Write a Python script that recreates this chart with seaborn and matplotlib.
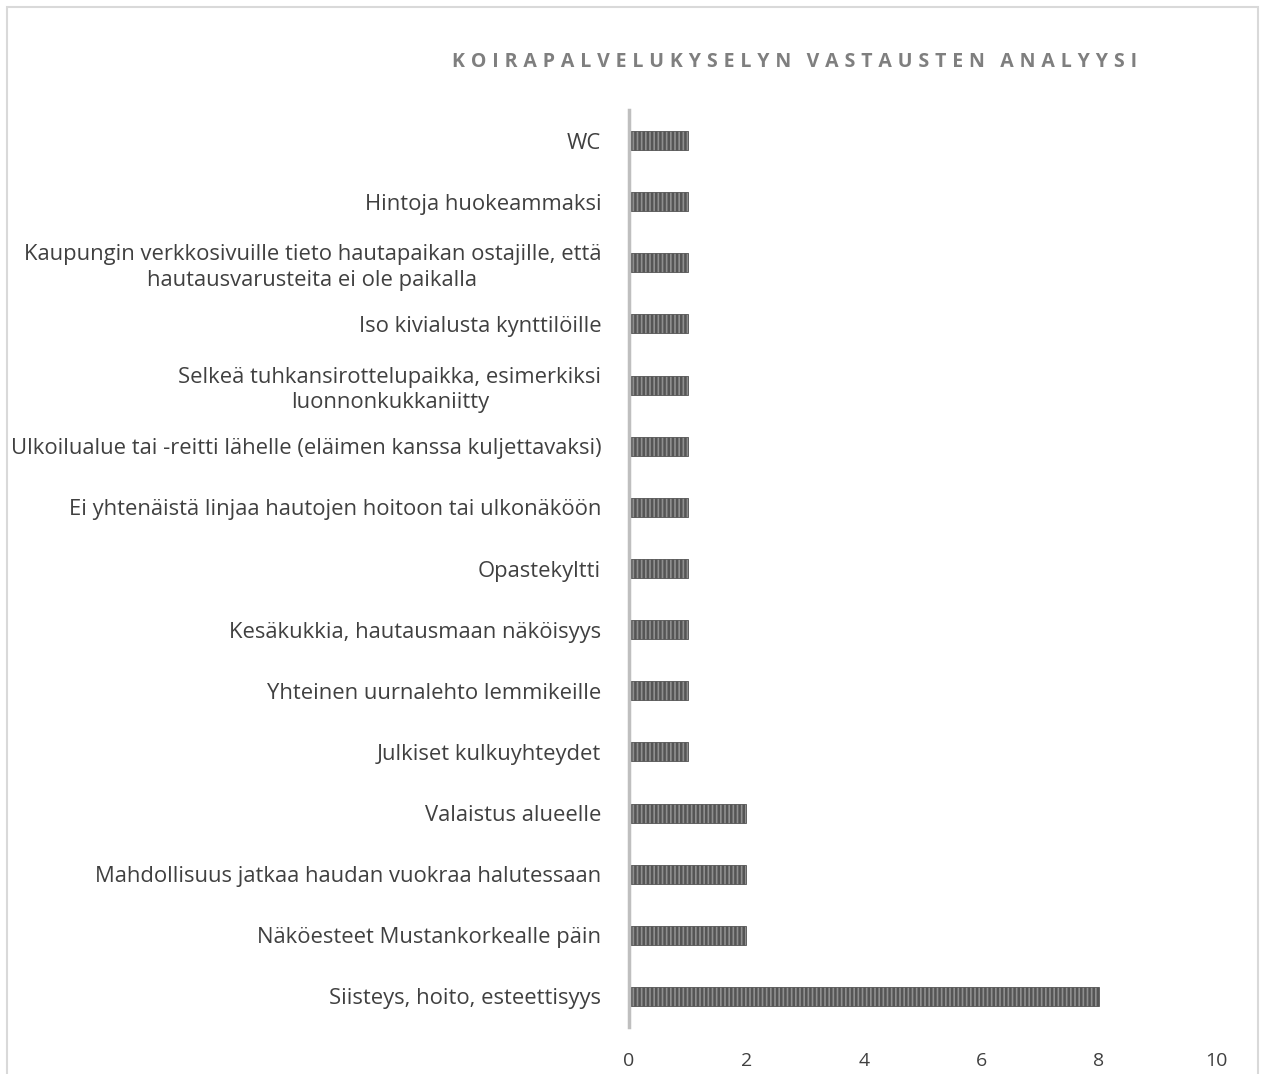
import pandas as pd
import seaborn as sns
import matplotlib.pyplot as plt
from matplotlib.patches import Rectangle

# data, top to bottom as in the chart
categories = [
    "WC",
    "Hintoja huokeammaksi",
    "Kaupungin verkkosivuille tieto hautapaikan ostajille, että\nhautausvarusteita ei ole paikalla",
    "Iso kivialusta kynttilöille",
    "Selkeä tuhkansirottelupaikka, esimerkiksi\nluonnonkukkaniitty",
    "Ulkoilualue tai -reitti lähelle (eläimen kanssa kuljettavaksi)",
    "Ei yhtenäistä linjaa hautojen hoitoon tai ulkonäköön",
    "Opastekyltti",
    "Kesäkukkia, hautausmaan näköisyys",
    "Yhteinen uurnalehto lemmikeille",
    "Julkiset kulkuyhteydet",
    "Valaistus alueelle",
    "Mahdollisuus jatkaa haudan vuokraa halutessaan",
    "Näköesteet Mustankorkealle päin",
    "Siisteys, hoito, esteettisyys",
]
counts = [1, 1, 1, 1, 1, 1, 1, 1, 1, 1, 1, 2, 2, 2, 8]
x_ticks = [0, 2, 4, 6, 8, 10]
title = "KOIRAPALVELUKYSELYN VASTAUSTEN ANALYYSI"

df = pd.DataFrame({"vastaus": categories, "lkm": counts})

sns.set_theme(style="white")
plt.rcParams['font.family'] = ['Open Sans', 'DejaVu Sans']
plt.rcParams['hatch.linewidth'] = 1.8
plt.rcParams['hatch.color'] = '#2e2e2e'

fig = plt.figure(figsize=(12.67, 10.74), dpi=100)
ax = fig.add_axes([629 / 1267, 1 - 1027 / 1074, (1216 - 629) / 1267, (1027 - 110) / 1074])

sns.barplot(data=df, x="lkm", y="vastaus", orient="h", width=0.31,
            color="#8f8f8f", saturation=1, ax=ax)
for bar in ax.patches:
    bar.set_hatch("||||")
    bar.set_edgecolor("#555555")
    bar.set_linewidth(0.6)

ax.set_xlim(0, 10)
ax.set_xticks(x_ticks)
ax.set_xlabel("")
ax.set_ylabel("")
ax.tick_params(axis="both", length=0, labelcolor="#404040")
ax.tick_params(axis="x", pad=18, labelsize=14)
ax.tick_params(axis="y", pad=20, labelsize=15.8)
for lbl in ax.get_yticklabels():
    lbl.set_multialignment("center")
    lbl.set_linespacing(1.3)
for side in ["top", "right", "bottom"]:
    ax.spines[side].set_visible(False)
ax.spines["left"].set_color("#bfbfbf")
ax.spines["left"].set_linewidth(2.5)

# letter-spaced title
spaced = "\u2009\u200a".join(title).replace("\u2009\u200a \u2009\u200a", "   ")
fig.text(795 / 1267, 1 - 62 / 1074, spaced, ha="center", va="center",
         fontsize=14, fontweight="bold", color="#7f7f7f")

# chart frame
fig.patches.append(Rectangle((7 / 1267, -0.05), 1251 / 1267, 1.05 - 7 / 1074,
                             transform=fig.transFigure, fill=False,
                             edgecolor="#d9d9d9", linewidth=1.5))

fig.savefig("out.png", dpi=100)
